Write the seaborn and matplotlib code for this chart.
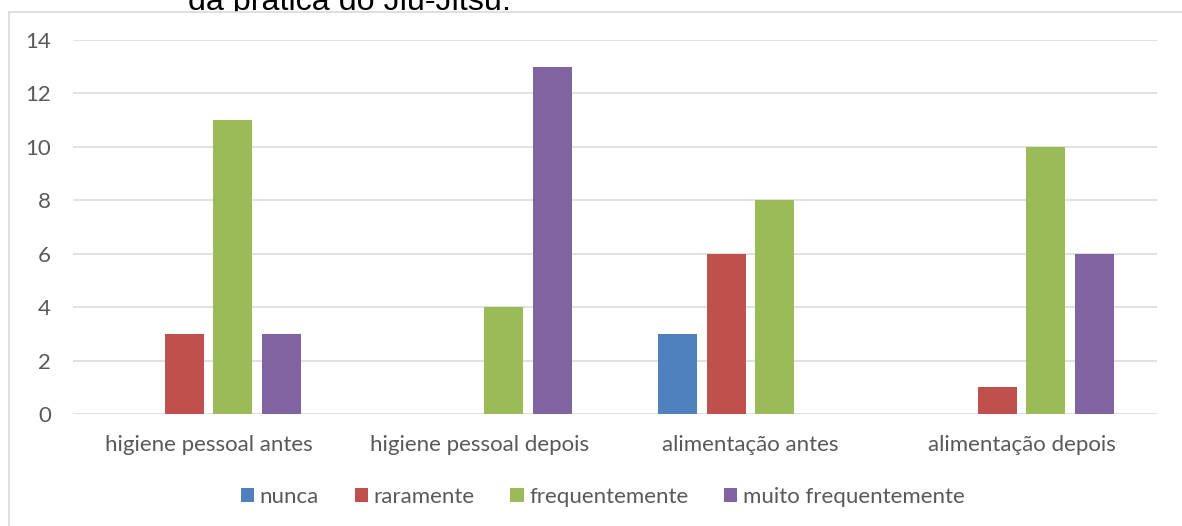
import matplotlib
matplotlib.use("Agg")
import matplotlib.pyplot as plt
import seaborn as sns
import pandas as pd
from matplotlib.patches import Rectangle
from matplotlib.lines import Line2D

categories = ["higiene pessoal antes", "higiene pessoal depois", "alimentação antes", "alimentação depois"]
series_names = ["nunca", "raramente", "frequentemente", "muito frequentemente"]
nunca = [0, 0, 3, 0]
raramente = [3, 0, 6, 1]
frequentemente = [11, 4, 8, 10]
muito_frequentemente = [3, 13, 0, 6]
y_ticks = [0, 2, 4, 6, 8, 10, 12, 14]
colors = ["#4F81BD", "#C0504D", "#9BBB59", "#8064A2"]
caption = "da prática do Jiu-Jitsu."

rows = []
for name, vals in zip(series_names, [nunca, raramente, frequentemente, muito_frequentemente]):
    for c, v in zip(categories, vals):
        rows.append({"categoria": c, "serie": name, "valor": v})
df = pd.DataFrame(rows)

sns.set_theme(style="white")
plt.rcParams["font.family"] = ["Lato", "DejaVu Sans"]

W, H = 1182, 526
fig = plt.figure(figsize=(W / 100, H / 100), dpi=100)
fig.patch.set_facecolor("white")

ax = fig.add_axes([73 / W, (H - 414) / H, 1084 / W, 374 / H])
ax.set_facecolor("none")
ax.set_zorder(1)

sns.barplot(data=df, x="categoria", y="valor", hue="serie", order=categories,
            hue_order=series_names, palette=colors, width=0.723, gap=0.204,
            linewidth=0, saturation=1, ax=ax, legend=True)

ax.set_ylim(0, 14)
ax.set_xlim(-0.5, 3.5)
ax.set_yticks(y_ticks)
ax.set_xlabel("")
ax.set_ylabel("")
for s in ax.spines.values():
    s.set_visible(False)
ax.yaxis.grid(True, color="#D9D9D9", linewidth=1.1)
ax.set_axisbelow(True)
ax.tick_params(axis="both", length=0, labelsize=16, labelcolor="#595959")
ax.tick_params(axis="x", pad=15)
ax.tick_params(axis="y", pad=16)

handles, labels = ax.get_legend_handles_labels()
ax.get_legend().remove()
leg = fig.legend(handles, labels, loc="center", bbox_to_anchor=(603 / W, (H - 497) / H),
                 ncol=4, frameon=False, fontsize=16, handlelength=0.59, handleheight=0.59,
                 handletextpad=0.27, columnspacing=1.6, labelcolor="#595959")

# cropped caption above chart area
t = fig.text(188 / W, (H - 10) / H, caption, fontsize=22, color="black",
             family=["Liberation Sans", "DejaVu Sans"], va="baseline", ha="left", zorder=-3)
r = fig.canvas.get_renderer()
w = t.get_window_extent(r).width
t.set_fontsize(22 * 322 / w)

fig.patches.append(Rectangle((0, 0), 1, (H - 12) / H, transform=fig.transFigure,
                             facecolor="white", edgecolor="none", zorder=-2))
fig.lines.append(Line2D([9 / W, 1], [(H - 12) / H, (H - 12) / H], transform=fig.transFigure,
                        color="#D9D9D9", linewidth=1.2, zorder=-1))
fig.lines.append(Line2D([9 / W, 9 / W], [0, (H - 12) / H], transform=fig.transFigure,
                        color="#D9D9D9", linewidth=1.2, zorder=-1))

fig.savefig("out.png", dpi=100)
